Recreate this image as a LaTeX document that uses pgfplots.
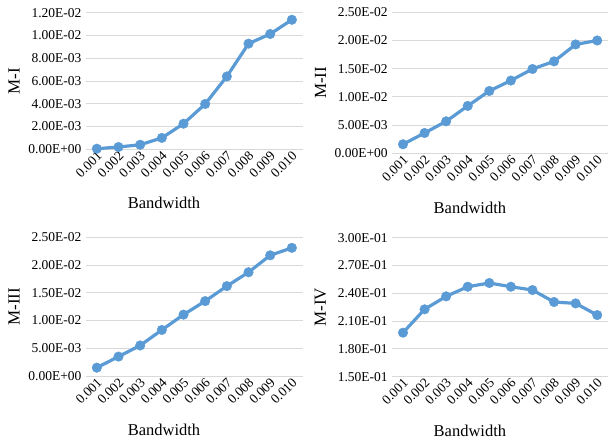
\documentclass[border=0pt]{standalone}
\usepackage{pgfplots}
\pgfplotsset{compat=1.18}
\usepackage{fontspec}
\setmainfont{Liberation Serif}
\definecolor{xlblue}{HTML}{5B9BD5}
\definecolor{xlgrid}{HTML}{D9D9D9}
\pgfplotsset{
  ser/.style={color=xlblue, line width=3.2pt, mark=*, mark size=4.8pt, mark options={solid, fill=xlblue, draw=xlblue, line width=0.4pt}},
  panel/.style={
    scale only axis,
    axis line style={draw=none},
    tick style={draw=none},
    ymajorgrids,
    major grid style={xlgrid, line width=0.9pt},
    xmin=-0.5, xmax=9.5,
    xtick={0,...,9},
    xticklabels={0.001,0.002,0.003,0.004,0.005,0.006,0.007,0.008,0.009,0.010},
    xticklabel style={font=\fontsize{13.5}{14}\selectfont, rotate=45, anchor=east, yshift=-5pt, inner sep=1pt},
    yticklabel style={font=\fontsize{13.5}{14}\selectfont, xshift=-1pt},
    scaled y ticks=false,
    xlabel={Bandwidth},
    xlabel style={font=\fontsize{16.5}{18}\selectfont, at={(axis description cs:0.36,-0.39)}, anchor=center},
    ylabel style={font=\fontsize{17}{19}\selectfont, at={(axis description cs:-0.332,0.5)}, anchor=center},
  }
}
\begin{document}
\begin{tikzpicture}
\useasboundingbox (0,0) rectangle (608pt,441pt);
% Panel M-I
\begin{axis}[panel, at={(86pt,291.7pt)}, anchor=south west,
  width=216.7pt, height=136.6pt,
  ymin=0, ymax=0.012,
  ytick={0,0.002,0.004,0.006,0.008,0.010,0.012},
  yticklabels={0.00E+00,2.00E-03,4.00E-03,6.00E-03,8.00E-03,1.00E-02,1.20E-02},
  ylabel={M-I}]
\addplot[ser] coordinates {(0,0.00005) (1,0.0002) (2,0.0004) (3,0.0010) (4,0.00225) (5,0.00398) (6,0.0064) (7,0.00928) (8,0.01013) (9,0.01138)};
\end{axis}
% Panel M-II
\begin{axis}[panel, at={(392.2pt,287.7pt)}, anchor=south west,
  width=215.8pt, height=141pt,
  ymin=0, ymax=0.025,
  ytick={0,0.005,0.010,0.015,0.020,0.025},
  yticklabels={0.00E+00,5.00E-03,1.00E-02,1.50E-02,2.00E-02,2.50E-02},
  ylabel={M-II}]
\addplot[ser] coordinates {(0,0.0016) (1,0.0036) (2,0.00567) (3,0.0084) (4,0.01105) (5,0.0129) (6,0.01495) (7,0.0163) (8,0.0193) (9,0.0200)};
\end{axis}
% Panel M-III
\begin{axis}[panel, at={(86pt,65pt)}, anchor=south west,
  width=216.7pt, height=138.7pt,
  ymin=0, ymax=0.025,
  ytick={0,0.005,0.010,0.015,0.020,0.025},
  yticklabels={0.00E+00,5.00E-03,1.00E-02,1.50E-02,2.00E-02,2.50E-02},
  ylabel={M-III}]
\addplot[ser] coordinates {(0,0.0015) (1,0.0035) (2,0.0055) (3,0.0083) (4,0.01106) (5,0.0135) (6,0.0162) (7,0.0187) (8,0.02175) (9,0.0231)};
\end{axis}
% Panel M-IV
\begin{axis}[panel, at={(392.2pt,64.3pt)}, anchor=south west,
  width=215.8pt, height=139pt,
  ymin=0.15, ymax=0.30,
  ytick={0.15,0.18,0.21,0.24,0.27,0.30},
  yticklabels={1.50E-01,1.80E-01,2.10E-01,2.40E-01,2.70E-01,3.00E-01},
  ylabel={M-IV}]
\addplot[ser] coordinates {(0,0.1975) (1,0.2227) (2,0.2367) (3,0.2471) (4,0.2511) (5,0.2471) (6,0.2435) (7,0.2306) (8,0.2291) (9,0.2165)};
\end{axis}
\end{tikzpicture}
\end{document}
